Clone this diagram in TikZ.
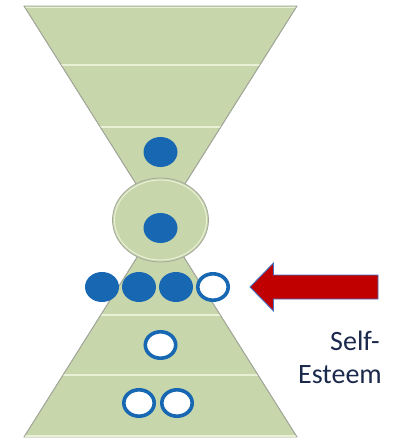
\documentclass[tikz,border=0pt]{standalone}
\usepackage{fontspec}
\setmainfont{Carlito}
\usetikzlibrary{shapes.geometric}
\definecolor{funnelgreen}{HTML}{C7D6AB}
\definecolor{bandline}{HTML}{E8F0D6}
\definecolor{edgegray}{HTML}{A3A89A}
\definecolor{dotblue}{HTML}{1767B3}
\definecolor{arrowred}{HTML}{C00000}
\definecolor{arrowedge}{HTML}{4472C4}
\definecolor{labelnavy}{HTML}{1B2A4C}
\tikzset{
  funnel/.style={fill=funnelgreen, draw=edgegray, line width=0.8pt, line join=round},
  band/.style={draw=bandline, line width=1.8pt},
  fulldot/.style={ellipse, fill=dotblue, minimum width=34pt, minimum height=30pt, inner sep=0pt},
  opendot/.style={ellipse, fill=white, draw=dotblue, line width=3.6pt, minimum width=30.4pt, minimum height=26.4pt, inner sep=0pt},
  labeltext/.style={font=\fontsize{28}{33}\selectfont, text=labelnavy, inner sep=0pt, anchor=base east}
}
\begin{document}
\begin{tikzpicture}[x=1pt, y=-1pt]
\useasboundingbox (0,0) rectangle (392,439);

% upper funnel with its three bands
\coordinate (tl) at (24,6);
\coordinate (tr) at (297,6);
\coordinate (tc) at (160.5,222.7);
\path[funnel] (tl) -- (tr) -- (tc) -- cycle;
\begin{scope}
  \clip (tl) -- (tr) -- (tc) -- cycle;
  \draw[band] (0,7.5) -- (392,7.5);
  \draw[band] (0,65) -- (392,65);
  \draw[band] (0,127) -- (392,127);
\end{scope}
\draw[draw=edgegray, line width=0.8pt] (tl) -- (tc) -- (tr);

% lower pyramid with its three bands
\coordinate (bl) at (24,437);
\coordinate (br) at (297,437);
\coordinate (bc) at (160.5,220);
\path[funnel] (bl) -- (br) -- (bc) -- cycle;
\begin{scope}
  \clip (bl) -- (br) -- (bc) -- cycle;
  \draw[band] (0,315) -- (392,315);
  \draw[band] (0,375) -- (392,375);
  \draw[band] (0,436) -- (392,436);
\end{scope}
\draw[draw=edgegray, line width=0.8pt] (bl) -- (bc) -- (br);

% central bulb
\node[ellipse, fill=funnelgreen, draw=edgegray, line width=0.8pt,
      minimum width=96pt, minimum height=84pt, inner sep=0pt] (bulb) at (160.5,220) {};
\node[ellipse, draw=bandline, line width=1pt,
      minimum width=92pt, minimum height=80pt, inner sep=0pt] (bulbrim) at (160.5,220) {};

% dots
\node[fulldot] (d1) at (160.5,152) {};
\node[fulldot] (d2) at (160.5,228) {};
\node[fulldot] (r1) at (102,287) {};
\node[fulldot] (r2) at (139,287) {};
\node[fulldot] (r3) at (176,287) {};
\node[opendot] (r4) at (213,287) {};
\node[opendot] (o1) at (160.5,345) {};
\node[opendot] (o2) at (139,403) {};
\node[opendot] (o3) at (177,403) {};

% pointer arrow
\coordinate (tip) at (250,287);
\draw[fill=arrowred, draw=arrowedge, line width=0.9pt, line join=miter]
  (tip) -- (273.5,263) -- (273.5,275) -- (378,275) -- (378,299) -- (273.5,299) -- (273.5,311) -- cycle;

% label
\node[labeltext] (self) at (380,350) {Self-};
\node[labeltext] (esteem) at (382,383) {Esteem};
\end{tikzpicture}
\end{document}
